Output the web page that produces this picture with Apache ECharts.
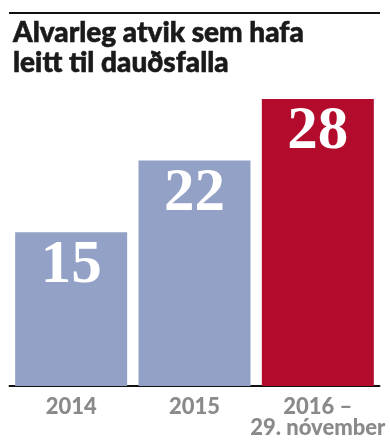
<!DOCTYPE html>
<html>
<head>
<meta charset="utf-8">
<script src="https://cdn.jsdelivr.net/npm/echarts@6/dist/echarts.min.js"></script>
<style>
html,body{margin:0;padding:0;background:#fff;}
#chart{width:390px;height:447px;}
</style>
</head>
<body>
<div id="chart"></div>
<script>
const titleText = 'Alvarleg atvik sem hafa\nleitt til dauðsfalla';
const categories = ['2014', '2015', '2016 –\n29. nóvember'];
const values = [15, 22, 28];

const BLUE = '#93a1c7';
const RED = '#b20b2c';
const highlightIndex = 2;

const chart = echarts.init(document.getElementById('chart'), null, {renderer: 'canvas'});
chart.setOption({
  animation: false,
  backgroundColor: '#ffffff',
  title: {
    text: titleText,
    left: 8,
    top: 13,
    textStyle: {
      fontFamily: 'Lato',
      fontWeight: 900,
      fontSize: 28,
      lineHeight: 30,
      color: '#1a1a1a',
      textBorderColor: '#1a1a1a',
      textBorderWidth: 0.6
    }
  },
  graphic: [{
    type: 'line',
    shape: {x1: 9, y1: 13, x2: 380, y2: 13},
    style: {stroke: '#111', lineWidth: 2}
  }],
  grid: {left: 9.5, right: 10.5, top: 78.5, bottom: 61},
  xAxis: {
    type: 'category',
    data: categories,
    axisLine: {show: true, lineStyle: {color: '#111', width: 2}},
    axisTick: {show: false},
    axisLabel: {
      interval: 0,
      margin: 10,
      fontFamily: 'Lato',
      fontWeight: 900,
      fontSize: 22,
      lineHeight: 21,
      color: '#8a8a8a'
    }
  },
  yAxis: {
    type: 'value',
    min: 0,
    max: 30,
    show: false,
    splitLine: {show: false}
  },
  series: [{
    type: 'bar',
    barWidth: 112,
    data: values.map((v, i) => ({
      value: v,
      itemStyle: {color: i === highlightIndex ? RED : BLUE}
    })),
    label: {
      show: true,
      position: 'insideTop',
      distance: 3,
      fontFamily: 'Liberation Serif',
      fontWeight: 'bold',
      fontSize: 61,
      color: '#ffffff'
    }
  }]
});
</script>
</body>
</html>
